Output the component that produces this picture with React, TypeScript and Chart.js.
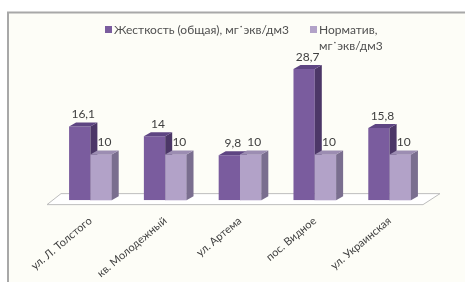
import React, { useEffect, useRef } from 'react';
import { Chart, registerables } from 'chart.js';

Chart.register(...registerables);

const categories = ['ул. Л. Толстого', 'кв. Молодежный', 'ул. Артема', 'пос. Видное', 'ул. Украинская'];
const hardnessValues = [16.1, 14, 9.8, 28.7, 15.8];
const normValues = [10, 10, 10, 10, 10];
const hardnessLabel = ['Жесткость (общая), мг˙экв/дм3'];
const normLabel = ['Норматив,', 'мг˙экв/дм3'];
const seriesLabels = [hardnessLabel, normLabel];

const FONT = 'Lato, "Open Sans", sans-serif';
const DX = 7;
const DY = -4;

const palettes = [
  { front: '#7A5C9E', top: '#5E4582', side: '#4C3767' },
  { front: '#B2A2C8', top: '#9C8DB2', side: '#7A6E8F' },
];

const fmt = (v: number) => String(v).replace('.', ',');

function drawFaces(ctx: any, meta: any, pal: any) {
  for (const el of meta.data) {
    const { x, y, base, width } = el.getProps(['x', 'y', 'base', 'width'], true);
    const l = x - width / 2;
    const r = x + width / 2;
    ctx.fillStyle = pal.side;
    ctx.beginPath();
    ctx.moveTo(r, y);
    ctx.lineTo(r + DX, y + DY);
    ctx.lineTo(r + DX, base + DY);
    ctx.lineTo(r, base);
    ctx.closePath();
    ctx.fill();
    ctx.fillStyle = pal.top;
    ctx.beginPath();
    ctx.moveTo(l, y);
    ctx.lineTo(l + DX, y + DY);
    ctx.lineTo(r + DX, y + DY);
    ctx.lineTo(r, y);
    ctx.closePath();
    ctx.fill();
  }
}

const threeD = {
  id: 'threeD',
  beforeDraw(chart: any) {
    const ctx = chart.ctx;
    ctx.save();
    ctx.fillStyle = '#ffffff';
    ctx.fillRect(0, 0, chart.width, chart.height);
    ctx.fillStyle = '#FDFDF7';
    ctx.fillRect(8, 12, chart.width - 8, chart.height - 12);
    ctx.strokeStyle = '#A8A8A8';
    ctx.lineWidth = 2;
    ctx.beginPath();
    ctx.moveTo(8, chart.height);
    ctx.lineTo(8, 12.5);
    ctx.lineTo(chart.width, 12.5);
    ctx.stroke();
    // legend
    const boxX = [105, 310];
    ctx.font = `12px ${FONT}`;
    ctx.textBaseline = 'middle';
    ctx.textAlign = 'left';
    seriesLabels.forEach((lines, i) => {
      ctx.fillStyle = palettes[i].front;
      ctx.fillRect(boxX[i], 26, 7, 7);
      ctx.fillStyle = '#505050';
      lines.forEach((t, j) => ctx.fillText(t, boxX[i] + 9, 30 + j * 16));
    });
    ctx.restore();
  },
  beforeDatasetsDraw(chart: any) {
    const { ctx, chartArea } = chart;
    const base = chart.scales.y.getPixelForValue(0);
    ctx.save();
    ctx.fillStyle = '#ffffff';
    ctx.strokeStyle = '#BDBDBD';
    ctx.lineWidth = 1;
    ctx.beginPath();
    ctx.moveTo(chartArea.left - 6, base + 4.5);
    ctx.lineTo(chartArea.right - 4, base + 4.5);
    ctx.lineTo(chartArea.right + 13, base - 6.5);
    ctx.lineTo(chartArea.left + 8, base - 6.5);
    ctx.closePath();
    ctx.fill();
    ctx.stroke();
    ctx.restore();
  },
  afterDatasetDraw(chart: any, args: any) {
    if (args.index !== 0) return;
    const ctx = chart.ctx;
    ctx.save();
    drawFaces(ctx, args.meta, palettes[0]);
    const meta1 = chart.getDatasetMeta(1);
    meta1.data.forEach((el: any) => el.draw(ctx));
    drawFaces(ctx, meta1, palettes[1]);
    ctx.restore();
  },
  afterDatasetsDraw(chart: any) {
    const ctx = chart.ctx;
    ctx.save();
    ctx.fillStyle = '#404040';
    ctx.font = `12px ${FONT}`;
    ctx.textAlign = 'center';
    ctx.textBaseline = 'bottom';
    chart.data.datasets.forEach((ds: any, di: number) => {
      const meta = chart.getDatasetMeta(di);
      meta.data.forEach((el: any, i: number) => {
        const { x, y } = el.getProps(['x', 'y'], true);
        ctx.fillText(fmt(ds.data[i]), x + DX / 2, y + DY - 2);
      });
    });
    ctx.restore();
  },
};

export default function App() {
  const ref = useRef<HTMLCanvasElement | null>(null);
  useEffect(() => {
    document.body.style.margin = '0';
    const chart = new Chart(ref.current as HTMLCanvasElement, {
      type: 'bar',
      data: {
        labels: categories,
        datasets: [
          {
            label: hardnessLabel.join(' '),
            data: hardnessValues,
            backgroundColor: palettes[0].front,
            categoryPercentage: 0.57,
            barPercentage: 1,
          },
          {
            label: normLabel.join(' '),
            data: normValues,
            backgroundColor: palettes[1].front,
            categoryPercentage: 0.57,
            barPercentage: 1,
          },
        ],
      },
      options: {
        responsive: false,
        animation: false,
        layout: { padding: { left: 53, right: 38, top: 63, bottom: -12 } },
        plugins: {
          tooltip: { enabled: false },
          legend: { display: false },
        },
        scales: {
          x: {
            grid: { display: false, drawTicks: false },
            border: { display: false },
            ticks: {
              color: '#404040',
              font: { family: FONT, size: 11 },
              minRotation: 40,
              maxRotation: 40,
              padding: 14,
            },
          },
          y: {
            display: false,
            min: 0,
            max: 30,
          },
        },
      },
      plugins: [threeD],
    } as any);
    return () => chart.destroy();
  }, []);
  return (
    <div style={{ width: 465, height: 282 }}>
      <canvas ref={ref} width={465} height={282} />
    </div>
  );
}
